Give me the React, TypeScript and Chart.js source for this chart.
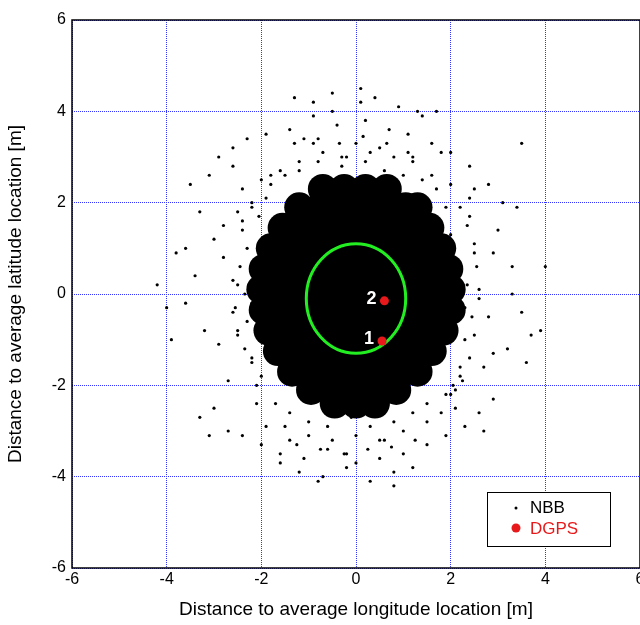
import React, { useEffect, useRef } from "react";
import { Chart, registerables } from "chart.js";
Chart.register(...registerables);

const tickValues = [-6, -4, -2, 0, 2, 4, 6];
// dense core of the NBB cloud, by rows (drawn as overlapping markers)
const coreRowY = [2.3, 1.9, 1.45, 1.0, 0.55, 0.1, -0.35, -0.8, -1.25, -1.7, -2.1, -2.4];
const coreRowX: number[][] = [
  [-0.7, -0.25, 0.2, 0.65],
  [-1.2, -0.75, -0.3, 0.15, 0.6, 1.05, 1.3],
  [-1.55, -1.1, -0.65, -0.2, 0.25, 0.7, 1.15, 1.55],
  [-1.8, -1.35, -0.9, -0.45, 0, 0.45, 0.9, 1.35, 1.8],
  [-1.95, -1.5, -1.05, -0.6, -0.15, 0.3, 0.75, 1.2, 1.65, 1.95],
  [-2.0, -1.55, -1.1, -0.65, -0.2, 0.25, 0.7, 1.15, 1.6, 2.0],
  [-1.95, -1.5, -1.05, -0.6, -0.15, 0.3, 0.75, 1.2, 1.65, 2.0],
  [-1.85, -1.4, -0.95, -0.5, -0.05, 0.4, 0.85, 1.3, 1.85],
  [-1.65, -1.2, -0.75, -0.3, 0.15, 0.6, 1.05, 1.6],
  [-1.35, -0.9, -0.45, 0, 0.45, 0.9, 1.3],
  [-0.95, -0.5, -0.05, 0.4, 0.85],
  [-0.45, 0, 0.4],
];
// scattered NBB fixes around the core
const nbbX = [
  -2.1, -2.3, -2.0, -2.5, -2.2, -2.6, -2.4, -2.8, -2.1, -2.9, 2.1, 2.3, 2.0, 2.5, 2.2, 2.6, 2.4, 2.8, 2.1, 2.9,
  -1.8, -1.5, -1.2, -0.8, -0.3, 0.2, 0.6, 1.0, 1.4, 1.7, -1.7, -1.4, -1.0, -0.6, -0.1, 0.3, 0.8, 1.2, 1.5, 1.9,
  -2.2, -2.0, -1.9, 1.9, 2.2, 2.0, -2.4, 2.4, -2.7, 2.7, -3.0, 3.0, -3.2, 3.2, -3.4, 3.3, -3.6, 3.5, -3.8, 3.7,
  -3.1, -2.9, -2.6, -2.3, -1.9, -1.4, -0.9, -0.4, 0.2, 0.7, 1.1, 1.6, 2.0, 2.4, 2.8, 3.1,
  -3.0, -2.7, -2.4, -2.0, -1.6, -1.1, -0.6, 0.0, 0.5, 1.0, 1.5, 1.9, 2.3, 2.6, 2.9,
  -1.3, -0.9, -0.5, 0.1, 0.4, 0.9, 1.3, -1.2, -0.7, -0.2, 0.3, 0.8, 1.2, -4.2, -4.0, -3.9, 4.0, 3.6, 3.9,
  -3.5, -3.3, 3.4, -3.1, 3.5, -0.5, -0.3, 0.1, 0.5, 1.7, -1.6, -2.6, 2.7, -3.3, -0.8, -1.1, 0.8, 1.4, -0.2,
  -2.8, -2.5, 2.5, 2.9, -3.6, 3.3, -1.9, 1.8, -2.2, 2.1, -0.9, 0.6, 1.2, -1.4, 0.0,
  -2.35, -2.45, -2.55, -2.3, -2.5, -2.4, -2.6, -2.35, -2.5, -2.2, 2.35, 2.45, 2.55, 2.3, 2.5, 2.4, 2.6, 2.35, 2.5, 2.25,
  -1.6, -1.2, -0.7, -0.2, 0.3, 0.8, 1.2, 1.6, -1.5, -1.0, -0.5, 0.0, 0.5, 1.0, 1.5, -2.0, 2.0, -2.1, 2.1, -1.8, 1.8,
  -1.3, -0.8, -0.35, 0.15, 0.65, 1.1, -1.25, -0.75, -0.25, 0.25, 0.75, 1.25, -2.05, 2.05, -2.2, 2.2,
];
const nbbY = [
  0.3, -0.6, 1.1, 0.2, -1.4, -0.4, 1.6, 0.8, -2.0, -1.1, 0.5, -0.3, 1.3, -0.9, -1.6, 0.1, 1.7, -0.5, -2.1, 0.9,
  2.4, 2.6, 2.7, 2.9, 2.8, 2.9, 2.7, 2.6, 2.5, 2.3, -2.4, -2.6, -2.8, -2.9, -2.7, -2.9, -2.8, -2.6, -2.4, -2.2,
  1.9, -1.8, 2.1, 1.9, -1.8, -2.2, 2.3, 2.1, -1.9, -1.6, 1.2, 1.4, -0.8, -1.2, 0.4, 0.6, -0.2, -0.4, 0.9, -0.9,
  2.6, 3.0, 3.2, 3.4, 3.5, 3.6, 3.9, 3.7, 3.8, 3.6, 3.5, 3.3, 3.1, 2.8, 2.4, 2.0,
  -2.5, -3.0, -3.1, -3.3, -3.5, -3.6, -3.4, -3.7, -3.6, -3.5, -3.3, -3.1, -2.9, -2.6, -2.3,
  4.3, 4.2, 4.0, 4.2, 4.3, 4.1, 4.0, -3.9, -4.0, -3.8, -4.1, -3.9, -3.8, 0.2, -0.3, -1.0, 0.6, -1.5, -0.8,
  2.4, -2.7, 1.9, -3.1, 3.3, 4.4, 3.0, 4.5, 3.2, 4.0, -3.7, 2.8, -3.0, 1.8, -4.1, 3.4, -4.2, 3.9, -3.5,
  1.5, -0.9, 2.3, -1.3, 1.0, 0.0, -2.9, 3.1, -0.2, 0.2, 3.3, -3.2, 3.0, -3.2, 3.3,
  0.0, 0.6, -0.3, 1.0, -0.8, 1.4, 0.3, -1.2, 1.8, -1.5, 0.2, -0.5, 0.6, -1.0, 1.1, -1.4, -0.1, 1.5, 0.9, -1.9,
  2.7, 2.9, 3.1, 3.0, 3.1, 3.0, 2.9, 2.6, -2.9, -3.1, -3.2, -3.1, -3.2, -3.0, -2.8, 2.5, 2.4, -2.4, -2.5, 2.6, -2.6,
  3.3, 3.4, 3.3, 3.45, 3.3, 3.1, -3.3, -3.4, -3.5, -3.4, -3.35, -3.2, 1.7, -2.0, 2.0, 1.9,
];
const dgpsX = [0.55, 0.6];
const dgpsY = [-1.03, -0.15];
const dgpsLabels = ["1", "2"];
const ellipseCenter = { x: 0, y: -0.1 };
const ellipseRadius = { x: 1.05, y: 1.2 };

export default function App() {
  const ref = useRef<HTMLCanvasElement>(null);
  useEffect(() => {
    const font = "'Liberation Sans', Arial, sans-serif";
    const overlay = {
      id: "overlay",
      beforeDatasetsDraw(chart: any) {
        const { ctx, chartArea: a } = chart;
        ctx.save();
        ctx.strokeStyle = "#000"; ctx.lineWidth = 1.5;
        ctx.strokeRect(a.left, a.top, a.right - a.left, a.bottom - a.top);
        ctx.restore();
      },
      afterDatasetsDraw(chart: any) {
        const { ctx, scales } = chart;
        const xs = scales.x, ys = scales.y;
        ctx.save();
        const cx = xs.getPixelForValue(ellipseCenter.x), cy = ys.getPixelForValue(ellipseCenter.y);
        const rx = xs.getPixelForValue(ellipseCenter.x + ellipseRadius.x) - cx;
        const ry = cy - ys.getPixelForValue(ellipseCenter.y + ellipseRadius.y);
        ctx.strokeStyle = "#22ee22"; ctx.lineWidth = 3;
        ctx.beginPath(); ctx.ellipse(cx, cy, rx, ry, 0, 0, Math.PI * 2); ctx.stroke();
        dgpsX.forEach((x, i) => {
          const px = xs.getPixelForValue(x), py = ys.getPixelForValue(dgpsY[i]);
          ctx.fillStyle = "#e8191a"; ctx.beginPath(); ctx.arc(px, py, 4.5, 0, Math.PI * 2); ctx.fill();
          ctx.fillStyle = "#fff"; ctx.font = `bold 18px ${font}`; ctx.textAlign = "right"; ctx.textBaseline = "middle";
          ctx.fillText(dgpsLabels[i], px - 8, py - 2);
        });
        ctx.fillStyle = "#fff"; ctx.fillRect(487, 492, 123, 54);
        ctx.strokeStyle = "#000"; ctx.lineWidth = 1; ctx.strokeRect(487.5, 492.5, 123, 54);
        ctx.fillStyle = "#000"; ctx.beginPath(); ctx.arc(516, 508, 1.5, 0, Math.PI * 2); ctx.fill();
        ctx.font = `17px ${font}`; ctx.textAlign = "left"; ctx.textBaseline = "middle";
        ctx.fillText("NBB", 530, 508);
        ctx.fillStyle = "#e8191a"; ctx.beginPath(); ctx.arc(516, 528, 4.5, 0, Math.PI * 2); ctx.fill();
        ctx.fillText("DGPS", 530, 529);
        ctx.restore();
      },
    };
    const core: { x: number; y: number }[] = [];
    coreRowY.forEach((y, r) => coreRowX[r].forEach((x) => core.push({ x, y })));
    const pts = nbbX.map((x, i) => ({ x, y: nbbY[i] }));
    const grid = { color: "#3333ff", lineWidth: 1, drawTicks: false };
    const chart = new Chart(ref.current!, {
      type: "scatter",
      data: {
        datasets: [
          { data: core, pointRadius: 15, pointBackgroundColor: "#000", pointBorderWidth: 0 },
          { data: pts, pointRadius: 1.6, pointBackgroundColor: "#000", pointBorderWidth: 0 },
        ],
      },
      plugins: [overlay],
      options: {
        animation: false, responsive: false, events: [],
        layout: { padding: { top: 20, right: 22, left: 0, bottom: 0 } },
        plugins: { legend: { display: false }, tooltip: { enabled: false } },
        scales: {
          x: {
            type: "linear", min: -6, max: 6,
            afterBuildTicks: (s: any) => { s.ticks = tickValues.map((v) => ({ value: v })); },
            afterFit: (s: any) => { s.height = 57; },
            ticks: { color: "#000", font: { size: 16, family: font }, padding: 2 },
            grid,
            border: { display: false, dash: [1, 1] },
            title: { display: true, text: "Distance to average longitude location [m]", color: "#000", font: { size: 19, family: font }, padding: { top: 2 } },
          },
          y: {
            type: "linear", min: -6, max: 6,
            afterBuildTicks: (s: any) => { s.ticks = tickValues.map((v) => ({ value: v })); },
            afterFit: (s: any) => { s.width = 72; },
            ticks: { color: "#000", font: { size: 16, family: font }, padding: 6 },
            grid,
            border: { display: false, dash: [1, 1] },
            title: { display: true, text: "Distance to average latitude location [m]", color: "#000", font: { size: 19, family: font }, padding: { bottom: 4 } },
          },
        },
      },
    });
    return () => chart.destroy();
  }, []);
  return (
    <div style={{ position: "fixed", left: 0, top: 0, width: 640, height: 625, overflow: "hidden", background: "#fff" }}>
      <canvas ref={ref} width={662} height={625} style={{ width: 662, height: 625 }} />
    </div>
  );
}
